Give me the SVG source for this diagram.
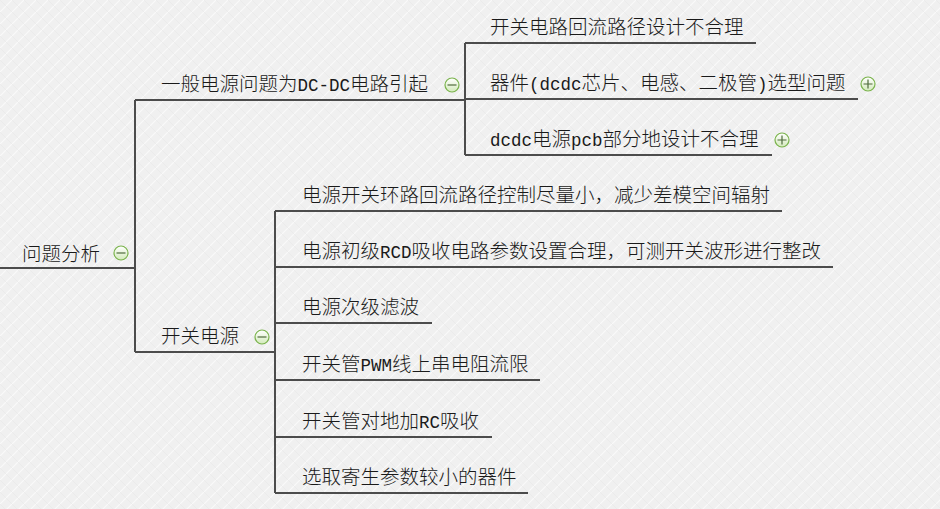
<svg xmlns="http://www.w3.org/2000/svg" xmlns:xlink="http://www.w3.org/1999/xlink" width="940" height="509" viewBox="0 0 940 509">
<defs>
<pattern id="bgp" width="12" height="12" patternUnits="userSpaceOnUse">
<rect width="12" height="12" fill="#f0f0f0"/>
<path d="M0 12 L12 0 M-3 3 L3 -3 M9 15 L15 9" stroke="#fafafa" stroke-width="1.2"/>
<path d="M0 0 L12 12 M-3 9 L3 15 M9 -3 L15 3" stroke="#e9e9e9" stroke-width="0.7"/>
</pattern>
<linearGradient id="ig" x1="0" y1="0" x2="0" y2="1">
<stop offset="0" stop-color="#ffffff"/>
<stop offset="1" stop-color="#d3eabb"/>
</linearGradient>
<g id="minus">
<circle r="7" fill="url(#ig)" stroke="#7ab34c" stroke-width="1.2"/>
<path d="M-4.5 0 H4.5" stroke="#4f6b3c" stroke-width="1.2"/>
</g>
<g id="plus">
<circle r="7" fill="url(#ig)" stroke="#7ab34c" stroke-width="1.2"/>
<path d="M-4.5 0 H4.5 M0 -4.5 V4.5" stroke="#4f6b3c" stroke-width="1.2"/>
</g>
</defs>
<style>
.t{font-family:"Noto Sans CJK SC","Noto Sans",sans-serif;font-size:19.5px;font-weight:300;fill:#1a1a1a}
.m{font-family:"Liberation Mono","DejaVu Sans Mono",monospace;font-size:17.5px;font-weight:normal}
.c{fill:none;stroke:#4c4c4c;stroke-width:2}
</style>
<rect width="940" height="509" fill="url(#bgp)"/>
<g id="connectors">
<path class="c" d="M0 268 H135"/>
<path class="c" d="M135 100 V352"/>
<path class="c" d="M135 100 H465"/>
<path class="c" d="M135 352 H275"/>
<path class="c" d="M465 43 V155"/>
<path class="c" d="M465 43 H756"/>
<path class="c" d="M465 99 H858"/>
<path class="c" d="M465 155 H772"/>
<path class="c" d="M275 211 V493"/>
<path class="c" d="M275 211 H782"/>
<path class="c" d="M275 267 H833"/>
<path class="c" d="M275 323 H432"/>
<path class="c" d="M275 380 H540"/>
<path class="c" d="M275 437 H492"/>
<path class="c" d="M275 493 H528"/>
</g>
<g id="root">
<text class="t" x="22" y="261">问题分析</text>
<use href="#minus" x="121" y="253"/>
</g>
<g id="n1">
<text class="t" x="161" y="91">一般电源问题为<tspan class="m">DC-DC</tspan>电路引起</text>
<use href="#minus" x="452" y="85"/>
</g>
<g id="n1a">
<text class="t" x="490" y="34">开关电路回流路径设计不合理</text>
</g>
<g id="n1b">
<text class="t" x="490" y="90">器件<tspan class="m">(dcdc</tspan>芯片、电感、二极管<tspan class="m">)</tspan>选型问题</text>
<use href="#plus" x="868" y="84"/>
</g>
<g id="n1c">
<text class="t" x="490" y="146"><tspan class="m">dcdc</tspan>电源<tspan class="m">pcb</tspan>部分地设计不合理</text>
<use href="#plus" x="782" y="140"/>
</g>
<g id="n2">
<text class="t" x="161" y="343">开关电源</text>
<use href="#minus" x="262" y="337"/>
</g>
<g id="n2a">
<text class="t" x="302" y="202">电源开关环路回流路径控制尽量小，减少差模空间辐射</text>
</g>
<g id="n2b">
<text class="t" x="302" y="258">电源初级<tspan class="m">RCD</tspan>吸收电路参数设置合理，可测开关波形进行整改</text>
</g>
<g id="n2c">
<text class="t" x="302" y="314">电源次级滤波</text>
</g>
<g id="n2d">
<text class="t" x="302" y="371">开关管<tspan class="m">PWM</tspan>线上串电阻流限</text>
</g>
<g id="n2e">
<text class="t" x="302" y="428">开关管对地加<tspan class="m">RC</tspan>吸收</text>
</g>
<g id="n2f">
<text class="t" x="302" y="484">选取寄生参数较小的器件</text>
</g>
</svg>
